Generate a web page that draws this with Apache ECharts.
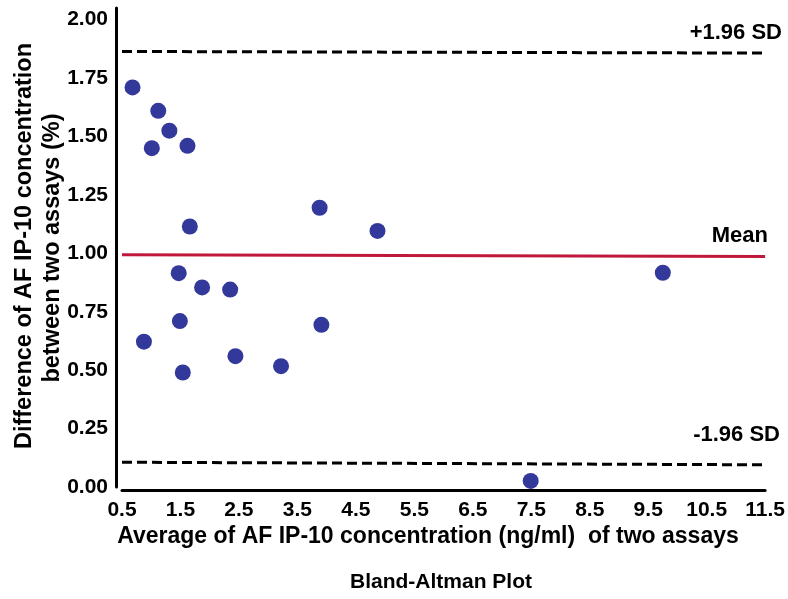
<!DOCTYPE html>
<html>
<head>
<meta charset="utf-8">
<script src="https://cdn.jsdelivr.net/npm/echarts@6/dist/echarts.min.js"></script>
<style>
  html, body { margin: 0; padding: 0; background: #fff; }
  #chart { width: 788px; height: 599px; }
</style>
</head>
<body>
<div id="chart"></div>
<script>
// averages (x) and differences (y) of the two assays
const avgValues = [0.68, 1.12, 1.31, 1.01, 1.62, 1.66, 3.88, 4.87, 9.75,
                   1.47, 1.87, 2.35, 1.49, 0.875, 2.44, 1.54, 3.22, 3.91, 7.49];
const diffValues = [1.71, 1.61, 1.525, 1.45, 1.46, 1.115, 1.195, 1.096, 0.917,
                    0.915, 0.854, 0.845, 0.71, 0.622, 0.56, 0.49, 0.517, 0.694, 0.026];
// reference lines: [left y, right y] (drawn slightly sloped as in the figure)
const upperSD = [1.864, 1.857];
const meanLine = [0.994, 0.986];
const lowerSD = [0.106, 0.095];
const xRange = [0.5, 11.5];
const yTicks = [0, 0.25, 0.5, 0.75, 1, 1.25, 1.5, 1.75, 2];

const points = avgValues.map((x, i) => [x, diffValues[i]]);
const font = 'Liberation Sans, Arial, sans-serif';

const chart = echarts.init(document.getElementById('chart'));
chart.setOption({
  backgroundColor: '#fff',
  animation: false,
  grid: { left: 122, right: 18, top: 8, bottom: 112 },
  xAxis: {
    type: 'value',
    min: xRange[0],
    max: xRange[1],
    interval: 1,
    offset: 3,
    axisLine: { show: true, onZero: false, lineStyle: { color: '#000', width: 3 } },
    axisTick: { show: false },
    splitLine: { show: false },
    axisLabel: {
      color: '#000', fontFamily: font, fontWeight: 'bold', fontSize: 21, margin: 10,
      formatter: v => v.toFixed(1)
    }
  },
  yAxis: {
    type: 'value',
    min: 0,
    max: 2.05,
    interval: 0.25,
    offset: 6,
    axisLine: { show: true, lineStyle: { color: '#000', width: 3 } },
    axisTick: { show: false },
    splitLine: { show: false },
    axisLabel: {
      color: '#000', fontFamily: font, fontWeight: 'bold', fontSize: 21, margin: 8,
      formatter: v => yTicks.some(t => Math.abs(t - v) < 1e-6) ? v.toFixed(2) : ''
    }
  },
  series: [
    {
      type: 'scatter',
      data: points,
      symbolSize: 16,
      itemStyle: { color: '#33399b', opacity: 1 },
      z: 5
    },
    {
      type: 'line',
      data: [[xRange[0], upperSD[0]], [xRange[1], upperSD[1]]],
      symbol: 'none',
      lineStyle: { color: '#000', width: 3, type: [10, 5] }
    },
    {
      type: 'line',
      data: [[xRange[0], lowerSD[0]], [xRange[1], lowerSD[1]]],
      symbol: 'none',
      lineStyle: { color: '#000', width: 3, type: [10, 5] }
    },
    {
      type: 'line',
      data: [[xRange[0], meanLine[0]], [xRange[1], meanLine[1]]],
      symbol: 'none',
      lineStyle: { color: '#c0183a', width: 3 }
    }
  ],
  graphic: [
    {
      type: 'text', x: 782, y: 33,
      style: { text: '+1.96 SD', fill: '#000', font: 'bold 22px ' + font, align: 'right', verticalAlign: 'middle' }
    },
    {
      type: 'text', x: 768, y: 236,
      style: { text: 'Mean', fill: '#000', font: 'bold 22px ' + font, align: 'right', verticalAlign: 'middle' }
    },
    {
      type: 'text', x: 780, y: 435,
      style: { text: '-1.96 SD', fill: '#000', font: 'bold 22px ' + font, align: 'right', verticalAlign: 'middle' }
    },
    {
      type: 'text', x: 428, y: 537,
      style: {
        text: 'Average of AF IP-10 concentration (ng/ml)  of two assays',
        fill: '#000', font: 'bold 23px ' + font, align: 'center', verticalAlign: 'middle'
      }
    },
    {
      type: 'text', x: 441, y: 582,
      style: {
        text: 'Bland-Altman Plot',
        fill: '#000', font: 'bold 21px ' + font, align: 'center', verticalAlign: 'middle'
      }
    },
    {
      type: 'text', x: 25, y: 246, rotation: Math.PI / 2,
      style: {
        text: 'Difference of AF IP-10 concentration',
        fill: '#000', font: 'bold 23.5px ' + font, align: 'center', verticalAlign: 'middle'
      }
    },
    {
      type: 'text', x: 53, y: 248, rotation: Math.PI / 2,
      style: {
        text: 'between two assays (%)',
        fill: '#000', font: 'bold 23.5px ' + font, align: 'center', verticalAlign: 'middle'
      }
    }
  ]
});
</script>
</body>
</html>
